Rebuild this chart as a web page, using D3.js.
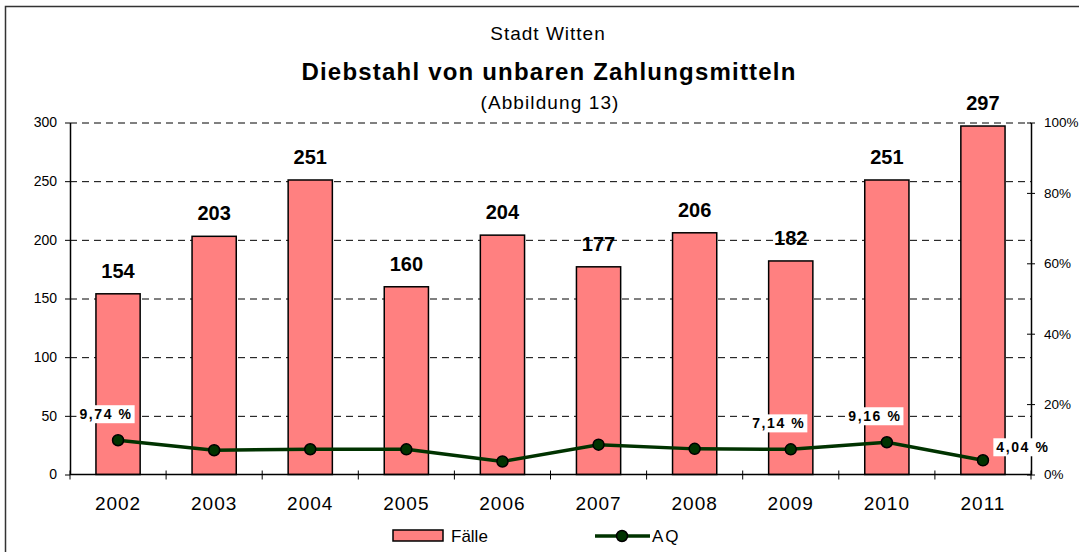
<!DOCTYPE html>
<html lang="de">
  <head>
    <meta charset="UTF-8" />
    <title>Diebstahl von unbaren Zahlungsmitteln</title>
    <script src="https://cdn.jsdelivr.net/npm/d3@7"></script>
    <style>
      body { margin: 0; background: #fff; }
      text { font-family: "Liberation Sans", Arial, sans-serif; fill: #000; }
    </style>
  </head>
  <body>
    <svg id="svg" width="1079" height="552"></svg>
    <script>
      // data
      const years = ["2002", "2003", "2004", "2005", "2006", "2007", "2008", "2009", "2010", "2011"];
      const faelle = [154, 203, 251, 160, 204, 177, 206, 182, 251, 297];
      const aq = [9.74, 6.9, 7.17, 7.14, 3.7, 8.47, 7.28, 7.14, 9.16, 4.04];
      const aqLabelYears = ["2002", "2009", "2010", "2011"];
      const leftTicks = [0, 50, 100, 150, 200, 250, 300];
      const rightTicks = [0, 20, 40, 60, 80, 100];

      const plotLeft = 70, plotRight = 1031, plotTop = 122.5, plotBottom = 474.5;

      const svg = d3.select("#svg");

      // outer frame
      svg.append("rect")
        .attr("x", 5.5).attr("y", 6.5)
        .attr("width", 1200).attr("height", 700)
        .attr("fill", "none").attr("stroke", "#333").attr("stroke-width", 1.5);

      // titles
      svg.append("text").attr("x", 548).attr("y", 40)
        .attr("text-anchor", "middle").style("font-size", "19px")
        .style("letter-spacing", "1px")
        .text("Stadt Witten");
      svg.append("text").attr("x", 549).attr("y", 80)
        .attr("text-anchor", "middle").style("font-size", "24px")
        .style("font-weight", "bold").style("letter-spacing", "1.2px")
        .text("Diebstahl von unbaren Zahlungsmitteln");
      svg.append("text").attr("x", 550).attr("y", 109)
        .attr("text-anchor", "middle").style("font-size", "19px")
        .style("letter-spacing", "1.1px")
        .text("(Abbildung 13)");

      const x = d3.scaleBand().domain(years).range([plotLeft, plotRight])
        .paddingInner(0.54).paddingOuter(0.27);
      const y = d3.scaleLinear().domain([0, 300]).range([plotBottom, plotTop]);
      const yR = d3.scaleLinear().domain([0, 100]).range([plotBottom, plotTop]);
      const step = x.step();

      // gridlines
      svg.append("g").selectAll("line")
        .data(leftTicks.filter(d => d > 0))
        .join("line")
        .attr("x1", plotLeft).attr("x2", plotRight)
        .attr("y1", d => y(d) + 0.5).attr("y2", d => y(d) + 0.5)
        .attr("stroke", "#000").attr("stroke-width", 1)
        .attr("stroke-dasharray", "7,5");

      // bars
      svg.append("g").selectAll("rect")
        .data(years)
        .join("rect")
        .attr("x", d => x(d))
        .attr("y", (d, i) => y(faelle[i]))
        .attr("width", x.bandwidth())
        .attr("height", (d, i) => plotBottom - y(faelle[i]))
        .attr("fill", "#FF8080")
        .attr("stroke", "#000").attr("stroke-width", 1.5);

      // bar labels
      svg.append("g").selectAll("text")
        .data(years)
        .join("text")
        .attr("x", d => x(d) + x.bandwidth() / 2)
        .attr("y", (d, i) => y(faelle[i]) - 16)
        .attr("text-anchor", "middle")
        .style("font-size", "20px").style("font-weight", "bold")
        .text((d, i) => faelle[i]);

      // left axis
      const gL = svg.append("g").attr("transform", `translate(${plotLeft},0)`)
        .call(d3.axisLeft(y).tickValues(leftTicks).tickSize(5).tickSizeOuter(0).tickPadding(8));
      gL.select(".domain").attr("stroke", "#000").attr("stroke-width", 1.5);
      gL.selectAll(".tick line").attr("stroke", "#000");
      gL.selectAll("text").style("font-size", "14px").style("font-family", "Liberation Sans, Arial, sans-serif");

      // right axis
      const gR = svg.append("g").attr("transform", `translate(${plotRight},0)`)
        .call(d3.axisRight(yR).tickValues(rightTicks).tickSize(4).tickSizeOuter(0).tickPadding(9)
          .tickFormat(d => d + "%"));
      gR.select(".domain").attr("stroke", "#000").attr("stroke-width", 1.5);
      gR.selectAll(".tick line").attr("x1", -4).attr("stroke", "#000");
      gR.selectAll("text").style("font-size", "13.5px").style("font-family", "Liberation Sans, Arial, sans-serif");

      // bottom axis
      svg.append("line")
        .attr("x1", plotLeft).attr("x2", plotRight)
        .attr("y1", plotBottom).attr("y2", plotBottom)
        .attr("stroke", "#000").attr("stroke-width", 1.5);
      svg.append("g").selectAll("line")
        .data(d3.range(years.length + 1))
        .join("line")
        .attr("x1", i => plotLeft + i * step).attr("x2", i => plotLeft + i * step)
        .attr("y1", plotBottom - 4).attr("y2", plotBottom + 5)
        .attr("stroke", "#000");
      svg.append("g").selectAll("text")
        .data(years)
        .join("text")
        .attr("x", d => x(d) + x.bandwidth() / 2)
        .attr("y", 510)
        .attr("text-anchor", "middle")
        .style("font-size", "19px").style("letter-spacing", "1px")
        .text(d => d);

      // AQ line
      const cx = d => x(d) + x.bandwidth() / 2;
      const line = d3.line().x(d => cx(d)).y((d, i) => yR(aq[i]));
      svg.append("path")
        .datum(years)
        .attr("d", line)
        .attr("fill", "none")
        .attr("stroke", "#003300").attr("stroke-width", 3.5);
      svg.append("g").selectAll("circle")
        .data(years)
        .join("circle")
        .attr("cx", cx)
        .attr("cy", (d, i) => yR(aq[i]))
        .attr("r", 5.5)
        .attr("fill", "#003300")
        .attr("stroke", "#000").attr("stroke-width", 1.5);

      // AQ labels
      const fmt = v => d3.format(".2f")(v).replace(".", ",") + " %";
      const lab = svg.append("g").selectAll("g")
        .data(aqLabelYears)
        .join("g")
        .attr("transform", d => {
          const i = years.indexOf(d);
          const px = cx(d), py = yR(aq[i]);
          if (d === "2011") return `translate(${px + 40},${py - 8})`;
          return `translate(${px - 12},${py - 21})`;
        });
      lab.append("text")
        .attr("text-anchor", "middle")
        .style("font-size", "14px").style("font-weight", "bold")
        .style("letter-spacing", "1.6px")
        .text(d => fmt(aq[years.indexOf(d)]));
      lab.each(function () {
        const g = d3.select(this);
        const b = g.select("text").node().getBBox();
        g.insert("rect", "text")
          .attr("x", b.x - 3).attr("y", b.y - 1)
          .attr("width", b.width + 5).attr("height", b.height + 2)
          .attr("fill", "#fff");
      });

      // legend
      const lg = svg.append("g");
      lg.append("rect").attr("x", 393).attr("y", 530).attr("width", 50).attr("height", 11)
        .attr("fill", "#FF8080").attr("stroke", "#000").attr("stroke-width", 1.5);
      lg.append("text").attr("x", 451).attr("y", 542).style("font-size", "17px").text("Fälle");
      lg.append("line").attr("x1", 595).attr("x2", 650).attr("y1", 536).attr("y2", 536)
        .attr("stroke", "#003300").attr("stroke-width", 3.5);
      lg.append("circle").attr("cx", 622).attr("cy", 536).attr("r", 5.5)
        .attr("fill", "#003300").attr("stroke", "#000").attr("stroke-width", 1.5);
      lg.append("text").attr("x", 652).attr("y", 542).style("font-size", "17px")
        .style("letter-spacing", "2px").text("AQ");
    </script>
  </body>
</html>
